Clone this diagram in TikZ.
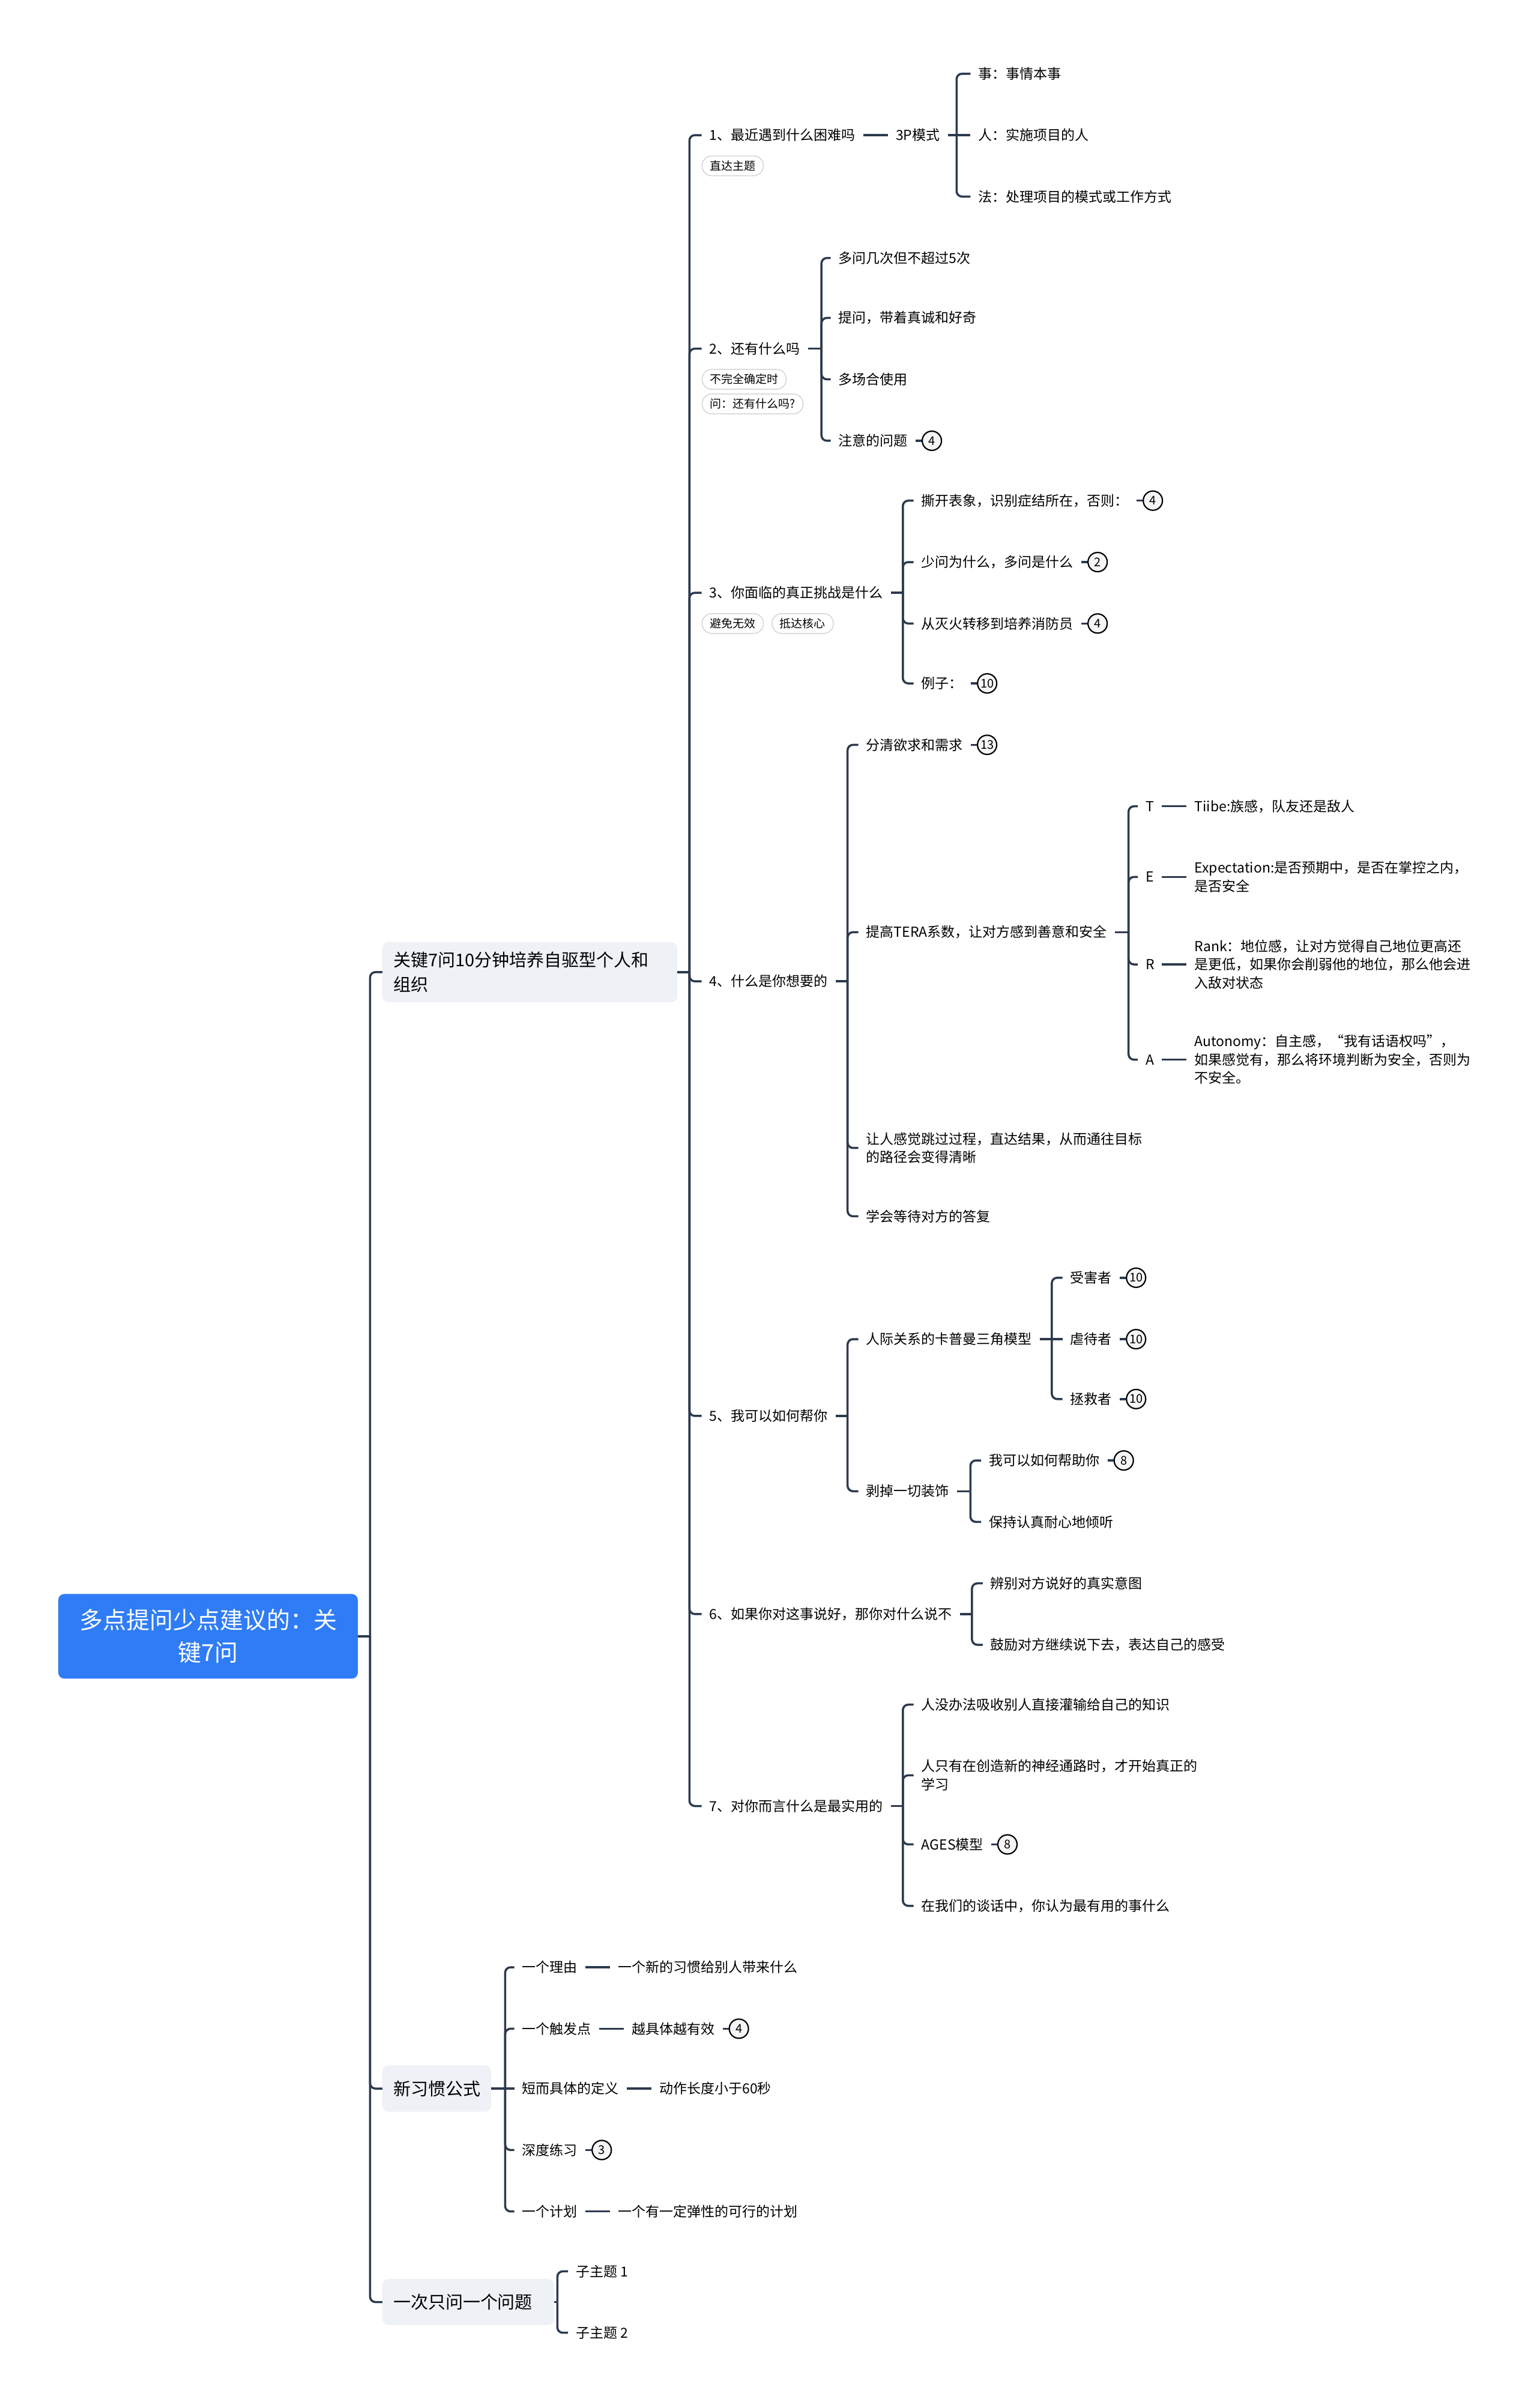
\documentclass[tikz,border=0pt]{standalone}
\usepackage{fontspec}
\setmainfont{Noto Sans CJK SC}
\usepackage{xcolor}
\usepackage{tikz}
\usetikzlibrary{positioning}
\definecolor{rootblue}{HTML}{2F7CF6}
\definecolor{topicgray}{HTML}{EEF1F5}
\definecolor{linenavy}{HTML}{2C3A4D}
\definecolor{taggray}{HTML}{D4D4D4}
\begin{document}
\begin{tikzpicture}[
    x=2.5574pt, y=-2.5574pt,
    root/.style={fill=rootblue, text=white, rounded corners=10pt, align=center, minimum width=499pt, minimum height=141pt, font=\fontsize{39}{54}\selectfont},
    topic/.style={fill=topicgray, rounded corners=10pt, anchor=west, align=left, inner xsep=18pt, minimum height=77pt, font=\fontsize{29}{41}\selectfont},
    leaf/.style={anchor=west, align=left, inner xsep=13pt, inner ysep=4pt, font=\fontsize{23}{30.5}\selectfont},
    letter/.style={leaf, text width=14pt},
    tag/.style={draw=taggray, line width=1.5pt, rounded corners=16pt, anchor=west, inner xsep=13pt, inner ysep=0pt, minimum height=33pt, font=\fontsize{19}{22}\selectfont},
    badge/.style={circle, draw=black, line width=2.2pt, fill=black!4, minimum size=32pt, inner sep=0pt, font=\fontsize{20}{22}\selectfont},
    link/.style={draw=linenavy, line width=3.5pt, rounded corners=9pt}
  ]
    \useasboundingbox (0,0) rectangle (1001,1568);

    \node[root] (root) at (135.5,1065.5) {多点提问少点建议的：关\\键7问};
    \node[topic, text width=455pt, minimum height=100pt] (ta) at (249,633) {关键7问10分钟培养自驱型个人和\\组织};
    \node[topic] (tb) at (249,1360) {新习惯公式};
    \node[topic, text width=250pt] (tc) at (249,1499) {一次只问一个问题};

    \node[leaf] (q1) at (457,88) {1、最近遇到什么困难吗};
    \node[leaf] (q2) at (457,227) {2、还有什么吗};
    \node[leaf] (q3) at (457,386) {3、你面临的真正挑战是什么};
    \node[leaf] (q4) at (457,639) {4、什么是你想要的};
    \node[leaf] (q5) at (457,922) {5、我可以如何帮你};
    \node[leaf] (q6) at (457,1051) {6、如果你对这事说好，那你对什么说不};
    \node[leaf] (q7) at (457,1176) {7、对你而言什么是最实用的};

    \node[tag] (t1) at (457,108) {直达主题};
    \node[tag] (t2a) at (457,247) {不完全确定时};
    \node[tag] (t2b) at (457,263) {问：还有什么吗?};
    \node[tag] (t3a) at (457,406) {避免无效};
    \node[tag, right=13pt of t3a] (t3b) {抵达核心};

    \node[leaf, right=41pt of q1] (pm) {3P模式};
    \node[leaf] (pm1) at (632,48) {事：事情本事};
    \node[leaf] (pm2) at (632,88) {人：实施项目的人};
    \node[leaf] (pm3) at (632,128) {法：处理项目的模式或工作方式};

    \node[leaf] (a1) at (541,168) {多问几次但不超过5次};
    \node[leaf] (a2) at (541,207) {提问，带着真诚和好奇};
    \node[leaf] (a3) at (541,247) {多场合使用};
    \node[leaf] (a4) at (541,287) {注意的问题};
    \node[badge, right=10pt of a4] (a4n) {4};

    \node[leaf] (c1) at (595,326) {撕开表象，识别症结所在，否则：};
    \node[badge, right=10pt of c1] (c1n) {4};
    \node[leaf] (c2) at (595,366) {少问为什么，多问是什么};
    \node[badge, right=10pt of c2] (c2n) {2};
    \node[leaf] (c3) at (595,406) {从灭火转移到培养消防员};
    \node[badge, right=10pt of c3] (c3n) {4};
    \node[leaf] (c4) at (595,445) {例子：};
    \node[badge, right=10pt of c4] (c4n) {10};

    \node[leaf] (w1) at (559,485) {分清欲求和需求};
    \node[badge, right=10pt of w1] (w1n) {13};
    \node[leaf] (w2) at (559,607) {提高TERA系数，让对方感到善意和安全};
    \node[leaf] (w3) at (559,747.5) {让人感觉跳过过程，直达结果，从而通往目标\\的路径会变得清晰};
    \node[leaf] (w4) at (559,792) {学会等待对方的答复};

    \node[letter] (lt) at (741,525) {T};
    \node[letter] (le) at (741,571) {E};
    \node[letter] (lr) at (741,628) {R};
    \node[letter] (la) at (741,690) {A};
    \node[leaf, right=41pt of lt] (dt) {Tiibe:族感，队友还是敌人};
    \node[leaf, right=41pt of le] (de) {Expectation:是否预期中，是否在掌控之内，\\是否安全};
    \node[leaf, right=41pt of lr] (dr) {Rank：地位感，让对方觉得自己地位更高还\\是更低，如果你会削弱他的地位，那么他会进\\入敌对状态};
    \node[leaf, right=41pt of la] (da) {Autonomy：自主感，“我有话语权吗”，\\如果感觉有，那么将环境判断为安全，否则为\\不安全。};

    \node[leaf] (h1) at (559,872) {人际关系的卡普曼三角模型};
    \node[leaf] (h2) at (559,971) {剥掉一切装饰};
    \node[leaf] (k1) at (692,832) {受害者};
    \node[badge, right=10pt of k1] (k1n) {10};
    \node[leaf] (k2) at (692,872) {虐待者};
    \node[badge, right=10pt of k2] (k2n) {10};
    \node[leaf] (k3) at (692,911) {拯救者};
    \node[badge, right=10pt of k3] (k3n) {10};
    \node[leaf] (s1) at (639,951) {我可以如何帮助你};
    \node[badge, right=10pt of s1] (s1n) {8};
    \node[leaf] (s2) at (639,991) {保持认真耐心地倾听};

    \node[leaf] (y1) at (640,1031) {辨别对方说好的真实意图};
    \node[leaf] (y2) at (640,1071) {鼓励对方继续说下去，表达自己的感受};

    \node[leaf] (u1) at (595,1110) {人没办法吸收别人直接灌输给自己的知识};
    \node[leaf] (u2) at (595,1156) {人只有在创造新的神经通路时，才开始真正的\\学习};
    \node[leaf] (u3) at (595,1201) {AGES模型};
    \node[badge, right=10pt of u3] (u3n) {8};
    \node[leaf] (u4) at (595,1241) {在我们的谈话中，你认为最有用的事什么};

    \node[leaf] (f1) at (335,1281) {一个理由};
    \node[leaf, right=41pt of f1] (g1) {一个新的习惯给别人带来什么};
    \node[leaf] (f2) at (335,1321) {一个触发点};
    \node[leaf, right=41pt of f2] (g2) {越具体越有效};
    \node[badge, right=10pt of g2] (g2n) {4};
    \node[leaf] (f3) at (335,1360) {短而具体的定义};
    \node[leaf, right=41pt of f3] (g3) {动作长度小于60秒};
    \node[leaf] (f4) at (335,1400) {深度练习};
    \node[badge, right=10pt of f4] (f4n) {3};
    \node[leaf] (f5) at (335,1440) {一个计划};
    \node[leaf, right=41pt of f5] (g5) {一个有一定弹性的可行的计划};

    \node[leaf] (z1) at (370,1479) {子主题 1};
    \node[leaf] (z2) at (370,1519) {子主题 2};

    \coordinate (rj) at (241,1065.5);
    \coordinate (taj) at (449,633);
    \coordinate (pmj) at (623,88);
    \coordinate (q2j) at (535,227);
    \coordinate (q3j) at (588,386);
    \coordinate (q4j) at (552,639);
    \coordinate (w2j) at (735,607);
    \coordinate (q5j) at (552,922);
    \coordinate (h1j) at (685,872);
    \coordinate (h2j) at (632,971);
    \coordinate (q6j) at (633,1051);
    \coordinate (q7j) at (588,1176);
    \coordinate (tbj) at (329,1360);
    \coordinate (tcj) at (363,1499);

    \draw[link] (root.east) -- (rj);
    \draw[link] (rj) |- (ta.west);
    \draw[link] (rj) |- (tb.west);
    \draw[link] (rj) |- (tc.west);

    \draw[link] (ta.east) -- (taj);
    \draw[link] (taj) |- (q1.west);
    \draw[link] (taj) |- (q2.west);
    \draw[link] (taj) |- (q3.west);
    \draw[link] (taj) |- (q4.west);
    \draw[link] (taj) |- (q5.west);
    \draw[link] (taj) |- (q6.west);
    \draw[link] (taj) |- (q7.west);

    \draw[link] (q1) -- (pm);
    \draw[link] (pm.east) -- (pmj);
    \draw[link] (pmj) |- (pm1.west);
    \draw[link] (pmj) -- (pm2.west);
    \draw[link] (pmj) |- (pm3.west);

    \draw[link] (q2.east) -- (q2j);
    \draw[link] (q2j) |- (a1.west);
    \draw[link] (q2j) |- (a2.west);
    \draw[link] (q2j) |- (a3.west);
    \draw[link] (q2j) |- (a4.west);
    \draw[link] (a4) -- (a4n);

    \draw[link] (q3.east) -- (q3j);
    \draw[link] (q3j) |- (c1.west);
    \draw[link] (q3j) |- (c2.west);
    \draw[link] (q3j) |- (c3.west);
    \draw[link] (q3j) |- (c4.west);
    \draw[link] (c1) -- (c1n);
    \draw[link] (c2) -- (c2n);
    \draw[link] (c3) -- (c3n);
    \draw[link] (c4) -- (c4n);

    \draw[link] (q4.east) -- (q4j);
    \draw[link] (q4j) |- (w1.west);
    \draw[link] (q4j) |- (w2.west);
    \draw[link] (q4j) |- (w3.west);
    \draw[link] (q4j) |- (w4.west);
    \draw[link] (w1) -- (w1n);
    \draw[link] (w2.east) -- (w2j);
    \draw[link] (w2j) |- (lt.west);
    \draw[link] (w2j) |- (le.west);
    \draw[link] (w2j) |- (lr.west);
    \draw[link] (w2j) |- (la.west);
    \draw[link] (lt) -- (dt);
    \draw[link] (le) -- (de);
    \draw[link] (lr) -- (dr);
    \draw[link] (la) -- (da);

    \draw[link] (q5.east) -- (q5j);
    \draw[link] (q5j) |- (h1.west);
    \draw[link] (q5j) |- (h2.west);
    \draw[link] (h1.east) -- (h1j);
    \draw[link] (h1j) |- (k1.west);
    \draw[link] (h1j) -- (k2.west);
    \draw[link] (h1j) |- (k3.west);
    \draw[link] (k1) -- (k1n);
    \draw[link] (k2) -- (k2n);
    \draw[link] (k3) -- (k3n);
    \draw[link] (h2.east) -- (h2j);
    \draw[link] (h2j) |- (s1.west);
    \draw[link] (h2j) |- (s2.west);
    \draw[link] (s1) -- (s1n);

    \draw[link] (q6.east) -- (q6j);
    \draw[link] (q6j) |- (y1.west);
    \draw[link] (q6j) |- (y2.west);

    \draw[link] (q7.east) -- (q7j);
    \draw[link] (q7j) |- (u1.west);
    \draw[link] (q7j) |- (u2.west);
    \draw[link] (q7j) |- (u3.west);
    \draw[link] (q7j) |- (u4.west);
    \draw[link] (u3) -- (u3n);

    \draw[link] (tb.east) -- (tbj);
    \draw[link] (tbj) |- (f1.west);
    \draw[link] (tbj) |- (f2.west);
    \draw[link] (tbj) -- (f3.west);
    \draw[link] (tbj) |- (f4.west);
    \draw[link] (tbj) |- (f5.west);
    \draw[link] (f1) -- (g1);
    \draw[link] (f2) -- (g2);
    \draw[link] (g2) -- (g2n);
    \draw[link] (f3) -- (g3);
    \draw[link] (f4) -- (f4n);
    \draw[link] (f5) -- (g5);

    \draw[link] (tc.east) -- (tcj);
    \draw[link] (tcj) |- (z1.west);
    \draw[link] (tcj) |- (z2.west);
\end{tikzpicture}
\end{document}
